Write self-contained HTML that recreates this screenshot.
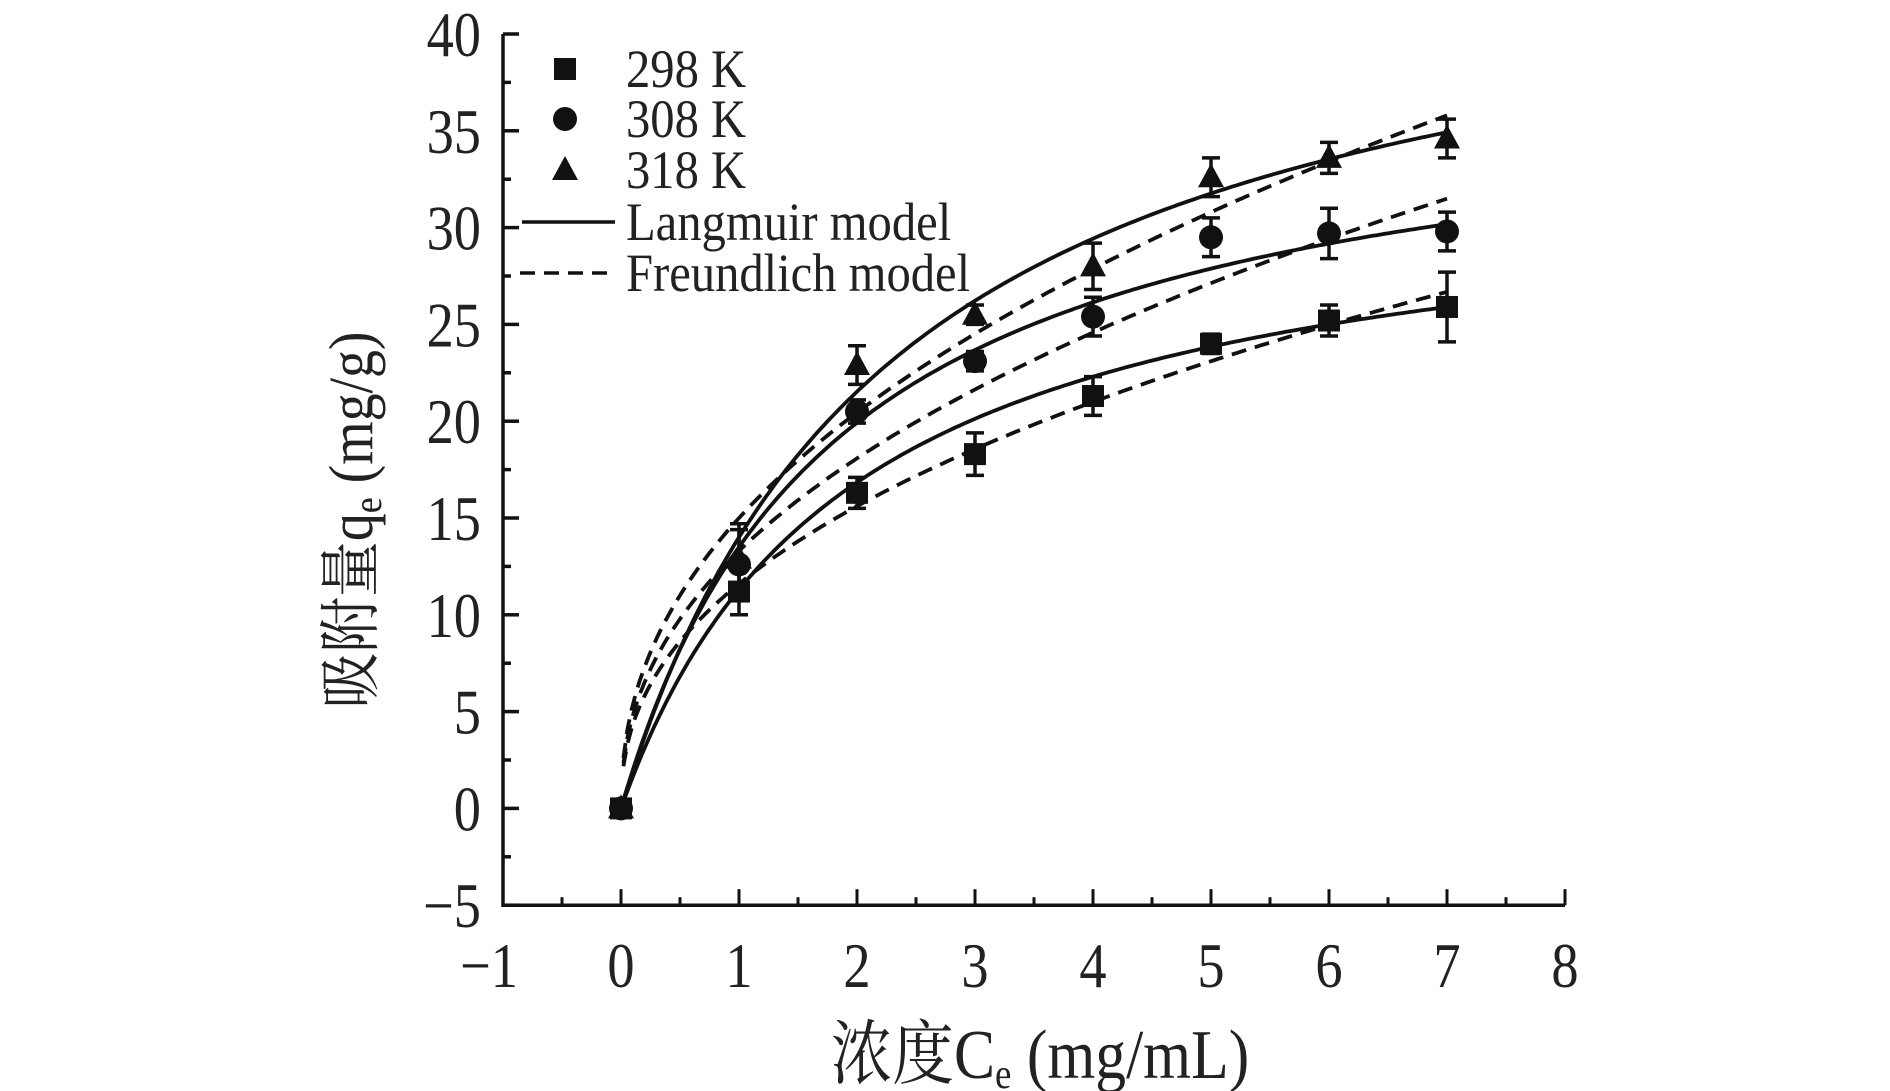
<!DOCTYPE html>
<html><head><meta charset="utf-8"><style>
html,body{margin:0;padding:0;background:#fff;}
svg{display:block;}
text{font-family:"Liberation Serif","Noto Serif CJK SC",serif;fill:#222;}
</style></head><body>
<svg id="s" width="1890" height="1091" viewBox="0 0 1890 1091" xmlns="http://www.w3.org/2000/svg"></svg>
<script>
const s=document.getElementById('s');
const X=v=>503+(v+1)*118, Y=v=>34+(40-v)*19.36;
let h='';
function T(x,y,size,anchor,content,sx){sx=sx||0.85;return `<text transform="translate(${x},${y}) scale(${sx},1)" font-size="${size}" text-anchor="${anchor}">${content}</text>`;}
// axes
h+=`<path d="M${X(-1)} ${Y(40)} L${X(-1)} ${Y(-5)} L${X(8)} ${Y(-5)}" fill="none" stroke="#111" stroke-width="3.5"/>`;
for(let v=-5;v<=40;v+=2.5){const L=(v%5===0)?16:8;h+=`<line x1="${X(-1)}" y1="${Y(v)}" x2="${X(-1)+L}" y2="${Y(v)}" stroke="#111" stroke-width="3.5"/>`;}
for(let v=-1;v<=8;v+=0.5){const L=(Number.isInteger(v))?16:8;h+=`<line x1="${X(v)}" y1="${Y(-5)}" x2="${X(v)}" y2="${Y(-5)-L}" stroke="#111" stroke-width="3"/>`;}
for(let v=-5;v<=40;v+=5){h+=T(X(-1)-22,Y(v)+22,64,'end',v<0?'\u2212'+(-v):v);}
for(let v=-1;v<=8;v++){h+=T(X(v)-(v<0?14:0),987,64,'middle',v<0?'\u2212'+(-v):v);}
// titles
h+=T(1040,1078,70,'middle',`浓度C<tspan font-size="42" dy="10">e</tspan><tspan dy="-10"> (mg/mL)</tspan>`,0.88);
h+=`<text transform="translate(372,520) rotate(-90) scale(0.9,1)" font-size="62" text-anchor="middle">吸附量q<tspan font-size="40" dy="9">e</tspan><tspan dy="-9"> (mg/g)</tspan></text>`;
// curves
function path(f,a,b){let d='';for(let i=0;i<=200;i++){const c=a+(b-a)*i/200;d+=(i?'L':'M')+X(c).toFixed(1)+' '+Y(f(c)).toFixed(1);}return d;}
const L=[[33,0.521],[38,0.551],[46.5,0.431]];
const F=[[11.6,0.428],[13.3,0.443],[15,0.447]];
L.forEach(p=>{h+=`<path d="${path(c=>p[0]*p[1]*c/(1+p[1]*c),0,7)}" fill="none" stroke="#111" stroke-width="3.8"/>`;});
F.forEach(p=>{h+=`<path d="${path(c=>p[0]*Math.pow(c,p[1]),0.02,7)}" fill="none" stroke="#111" stroke-width="3.8" stroke-dasharray="15,9"/>`;});
// data
const D=[
 [[0,0,0.3],[1,11.2,1.2],[2,16.3,0.8],[3,18.3,1.1],[4,21.3,1],[5,24,0.5],[6,25.2,0.8],[7,25.9,1.8]],
 [[0,0,0.3],[1,12.6,1.8],[2,20.5,0.6],[3,23.1,0.5],[4,25.4,1],[5,29.5,1],[6,29.7,1.3],[7,29.8,1]],
 [[0,0,0.3],[1,12.9,1.8],[2,22.9,1],[3,25.5,0.5],[4,28,1.2],[5,32.6,1],[6,33.6,0.8],[7,34.6,1]]];
function mk(t,x,y){
 if(t===0)return `<rect x="${x-11}" y="${y-11}" width="22" height="22" fill="#111"/>`;
 if(t===1)return `<circle cx="${x}" cy="${y}" r="12" fill="#111"/>`;
 return `<polygon points="${x},${y-14} ${x+13},${y+10} ${x-13},${y+10}" fill="#111"/>`;}
D.forEach((ser,t)=>ser.forEach(([c,q,e])=>{const x=X(c);
 h+=`<path d="M${x} ${Y(q+e)} V${Y(q-e)} M${x-9} ${Y(q+e)} H${x+9} M${x-9} ${Y(q-e)} H${x+9}" stroke="#111" stroke-width="3.5" fill="none"/>`;
 h+=mk(t,x,Y(q));}));
// legend
const ly=[69,119,170,222,273];
['298 K','308 K','318 K'].forEach((t,i)=>{h+=mk(i,565,ly[i]);h+=T(626,ly[i]+18,54,'start',t,0.9);});
h+=`<line x1="522" y1="${ly[3]}" x2="615" y2="${ly[3]}" stroke="#111" stroke-width="3.5"/>`+T(626,ly[3]+18,54,'start','Langmuir model',0.9);
h+=`<line x1="520" y1="${ly[4]}" x2="615" y2="${ly[4]}" stroke="#111" stroke-width="3.5" stroke-dasharray="15,9"/>`+T(626,ly[4]+18,54,'start','Freundlich model',0.9);
s.innerHTML=h;
</script>
</body></html>
